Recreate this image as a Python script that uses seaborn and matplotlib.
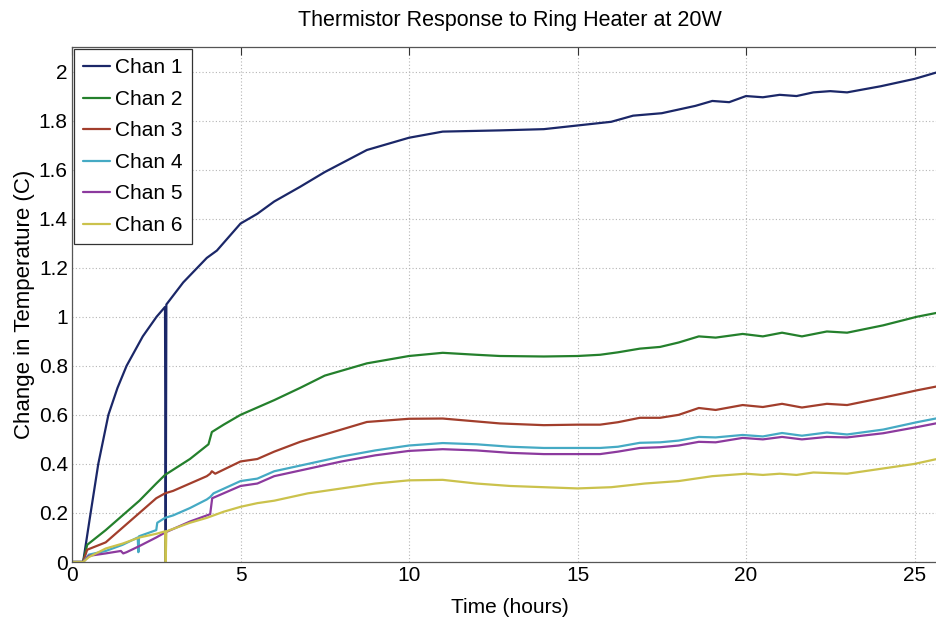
import numpy as np
import pandas as pd
import matplotlib
matplotlib.use("Agg")
import matplotlib.pyplot as plt
from matplotlib.ticker import MultipleLocator
import seaborn as sns

# ---------------- data ----------------
t1 = [0, 0.33, 0.53, 0.78, 1.08, 1.35, 1.62, 2.1, 2.51, 2.76, 2.78, 2.80, 3.3, 4.0, 4.3,
      5.0, 5.5, 6.0, 6.77, 7.5, 8.75, 10, 11, 12.7, 14, 15, 16, 16.65, 17.5, 18.5, 19,
      19.5, 20, 20.5, 21, 21.5, 22, 22.5, 23, 24, 25, 26]
c1 = [0, 0, 0.18, 0.40, 0.60, 0.71, 0.80, 0.92, 1.0, 1.04, 0, 1.05, 1.14, 1.24, 1.27,
      1.38, 1.42, 1.47, 1.53, 1.59, 1.68, 1.73, 1.755, 1.76, 1.765, 1.78, 1.795, 1.82, 1.83, 1.86, 1.88,
      1.875, 1.90, 1.895, 1.905, 1.90, 1.915, 1.92, 1.915, 1.94, 1.97, 2.01]

t2 = [0, 0.33, 0.45, 1.0, 1.5, 2.0, 2.5, 2.76, 3.5, 4.05, 4.15, 4.5, 5.0, 5.5, 6.0, 6.77,
      7.5, 8.75, 10, 11, 12, 12.7, 14, 15, 15.67, 16.2, 16.85, 17.45, 18, 18.6, 19.1, 19.9,
      20.5, 21.07, 21.66, 22.4, 23, 24.07, 25.07, 26]
c2 = [0, 0, 0.07, 0.13, 0.19, 0.25, 0.32, 0.355, 0.42, 0.48, 0.53, 0.56, 0.60, 0.63, 0.66, 0.71,
      0.76, 0.81, 0.84, 0.853, 0.845, 0.84, 0.838, 0.84, 0.845, 0.855, 0.87, 0.877, 0.895, 0.92, 0.915, 0.93,
      0.92, 0.935, 0.92, 0.94, 0.935, 0.965, 1.0, 1.025]

t3 = [0, 0.33, 0.45, 1.0, 1.5, 2.0, 2.5, 2.76, 3.0, 3.5, 4.0, 4.1, 4.15, 4.25, 5.0, 5.5, 6.0,
      6.77, 8.75, 10, 11, 12.7, 14, 15, 15.67, 16.2, 16.85, 17.45, 18, 18.6, 19.1, 19.9,
      20.5, 21.07, 21.66, 22.4, 23, 24.07, 25.07, 26]
c3 = [0, 0, 0.05, 0.08, 0.14, 0.20, 0.26, 0.28, 0.29, 0.32, 0.35, 0.36, 0.37, 0.36, 0.41, 0.42, 0.45,
      0.49, 0.571, 0.584, 0.585, 0.565, 0.558, 0.56, 0.56, 0.57, 0.588, 0.588, 0.60, 0.628, 0.62, 0.64,
      0.632, 0.645, 0.63, 0.645, 0.64, 0.67, 0.70, 0.725]

t4 = [0, 0.33, 0.5, 1.0, 1.5, 1.95, 1.97, 1.99, 2.5, 2.53, 2.76, 3.0, 3.5, 4.0, 4.1, 4.2, 5.0,
      5.5, 6, 7, 8, 9, 10, 11, 12, 13, 14, 15, 15.67, 16.2, 16.85, 17.45, 18, 18.6, 19.1, 19.9,
      20.5, 21.07, 21.66, 22.4, 23, 24.07, 25.07, 26]
c4 = [0, 0, 0.03, 0.045, 0.07, 0.10, 0.04, 0.105, 0.13, 0.16, 0.18, 0.19, 0.22, 0.255, 0.265, 0.28, 0.33,
      0.34, 0.37, 0.40, 0.43, 0.455, 0.475, 0.485, 0.48, 0.47, 0.465, 0.465, 0.465, 0.47, 0.486, 0.488, 0.495, 0.51, 0.508, 0.518,
      0.512, 0.526, 0.515, 0.528, 0.52, 0.54, 0.57, 0.595]

t5 = [0, 0.33, 0.5, 1.0, 1.45, 1.52, 1.62, 2.0, 2.5, 2.76, 3.5, 4.1, 4.16, 5.0, 5.5, 6, 7, 8,
      9, 10, 11, 12, 13, 14, 15, 15.67, 16.2, 16.85, 17.45, 18, 18.6, 19.1, 19.9, 20.5, 21.07,
      21.66, 22.4, 23, 24.07, 25.07, 26]
c5 = [0, 0, 0.025, 0.035, 0.045, 0.035, 0.04, 0.065, 0.10, 0.12, 0.165, 0.195, 0.26, 0.31, 0.32, 0.35, 0.38, 0.41,
      0.435, 0.453, 0.46, 0.455, 0.445, 0.44, 0.44, 0.44, 0.45, 0.465, 0.468, 0.475, 0.49, 0.488, 0.506, 0.50, 0.51,
      0.50, 0.51, 0.508, 0.525, 0.55, 0.575]

t6 = [0, 0.33, 0.5, 1.0, 1.5, 2.0, 2.5, 2.76, 2.78, 2.80, 3.5, 4.0, 4.5, 5.0, 5.5, 6, 7, 8, 9,
      10, 11, 12, 13, 14, 15, 16, 17, 18, 19, 20, 20.5, 21, 21.5, 22, 23, 24, 25, 26]
c6 = [0, 0, 0.02, 0.055, 0.075, 0.10, 0.115, 0.125, 0, 0.125, 0.16, 0.18, 0.205, 0.225, 0.24, 0.25, 0.28, 0.30, 0.32,
      0.333, 0.335, 0.32, 0.31, 0.305, 0.30, 0.305, 0.32, 0.33, 0.35, 0.36, 0.355, 0.36, 0.355, 0.365, 0.36, 0.38, 0.40, 0.43]

channels = ["Chan 1", "Chan 2", "Chan 3", "Chan 4", "Chan 5", "Chan 6"]
times = [t1, t2, t3, t4, t5, t6]
values = [c1, c2, c3, c4, c5, c6]
colors = ["#1b2768", "#24802c", "#a23e2c", "#45aac4", "#8c3a9e", "#cbc24c"]

frames = []
for name, t, v in zip(channels, times, values):
    frames.append(pd.DataFrame({"Time": t, "Temp": v, "Channel": name}))
df = pd.concat(frames, ignore_index=True)

# ---------------- plot ----------------
sns.set_style("white")
plt.rcParams["font.family"] = ["Liberation Sans", "DejaVu Sans"]
plt.rcParams["text.color"] = "black"
plt.rcParams["axes.labelcolor"] = "black"
plt.rcParams["xtick.color"] = "#333333"
plt.rcParams["ytick.color"] = "#333333"
plt.rcParams["xtick.labelcolor"] = "black"
plt.rcParams["ytick.labelcolor"] = "black"

fig = plt.figure(figsize=(9.37, 6.18), dpi=100)
ax = fig.add_axes([72 / 937, 56 / 618, (26 * 33.7) / 937, 515 / 618])

sns.lineplot(data=df, x="Time", y="Temp", hue="Channel", hue_order=channels,
             palette=dict(zip(channels, colors)), estimator=None, sort=False,
             linewidth=1.6, ax=ax, legend=False)

ax.set_xlim(0, 26)
ax.set_ylim(0, 2.1)
ax.xaxis.set_major_locator(MultipleLocator(5))
ax.yaxis.set_major_locator(MultipleLocator(0.2))
ax.yaxis.set_major_formatter(plt.FuncFormatter(lambda v, p: "%g" % round(v, 2)))

ax.grid(True, linestyle=(0, (1, 2)), color="#b5b5b5", linewidth=0.8)
ax.tick_params(direction="in", length=6, top=True, right=True, labelsize=15, pad=3)
for s in ax.spines.values():
    s.set_color("#555555")
    s.set_linewidth(0.9)

ax.set_xlabel("Time (hours)", fontsize=15, labelpad=9)
ax.set_ylabel("Change in Temperature (C)", fontsize=16, labelpad=3)
ax.set_title("Thermistor Response to Ring Heater at 20W", fontsize=15.5, pad=15)

handles = [plt.Line2D([0], [0], color=c, lw=1.6) for c in colors]
leg = ax.legend(handles, channels, loc="upper left", fontsize=15, frameon=True,
                fancybox=False, edgecolor="#333333", framealpha=1,
                borderaxespad=0.1, handlelength=1.25, handletextpad=0.25,
                labelspacing=0.6, borderpad=0.45)
leg.get_frame().set_linewidth(0.9)

fig.savefig("out.png", dpi=100)
